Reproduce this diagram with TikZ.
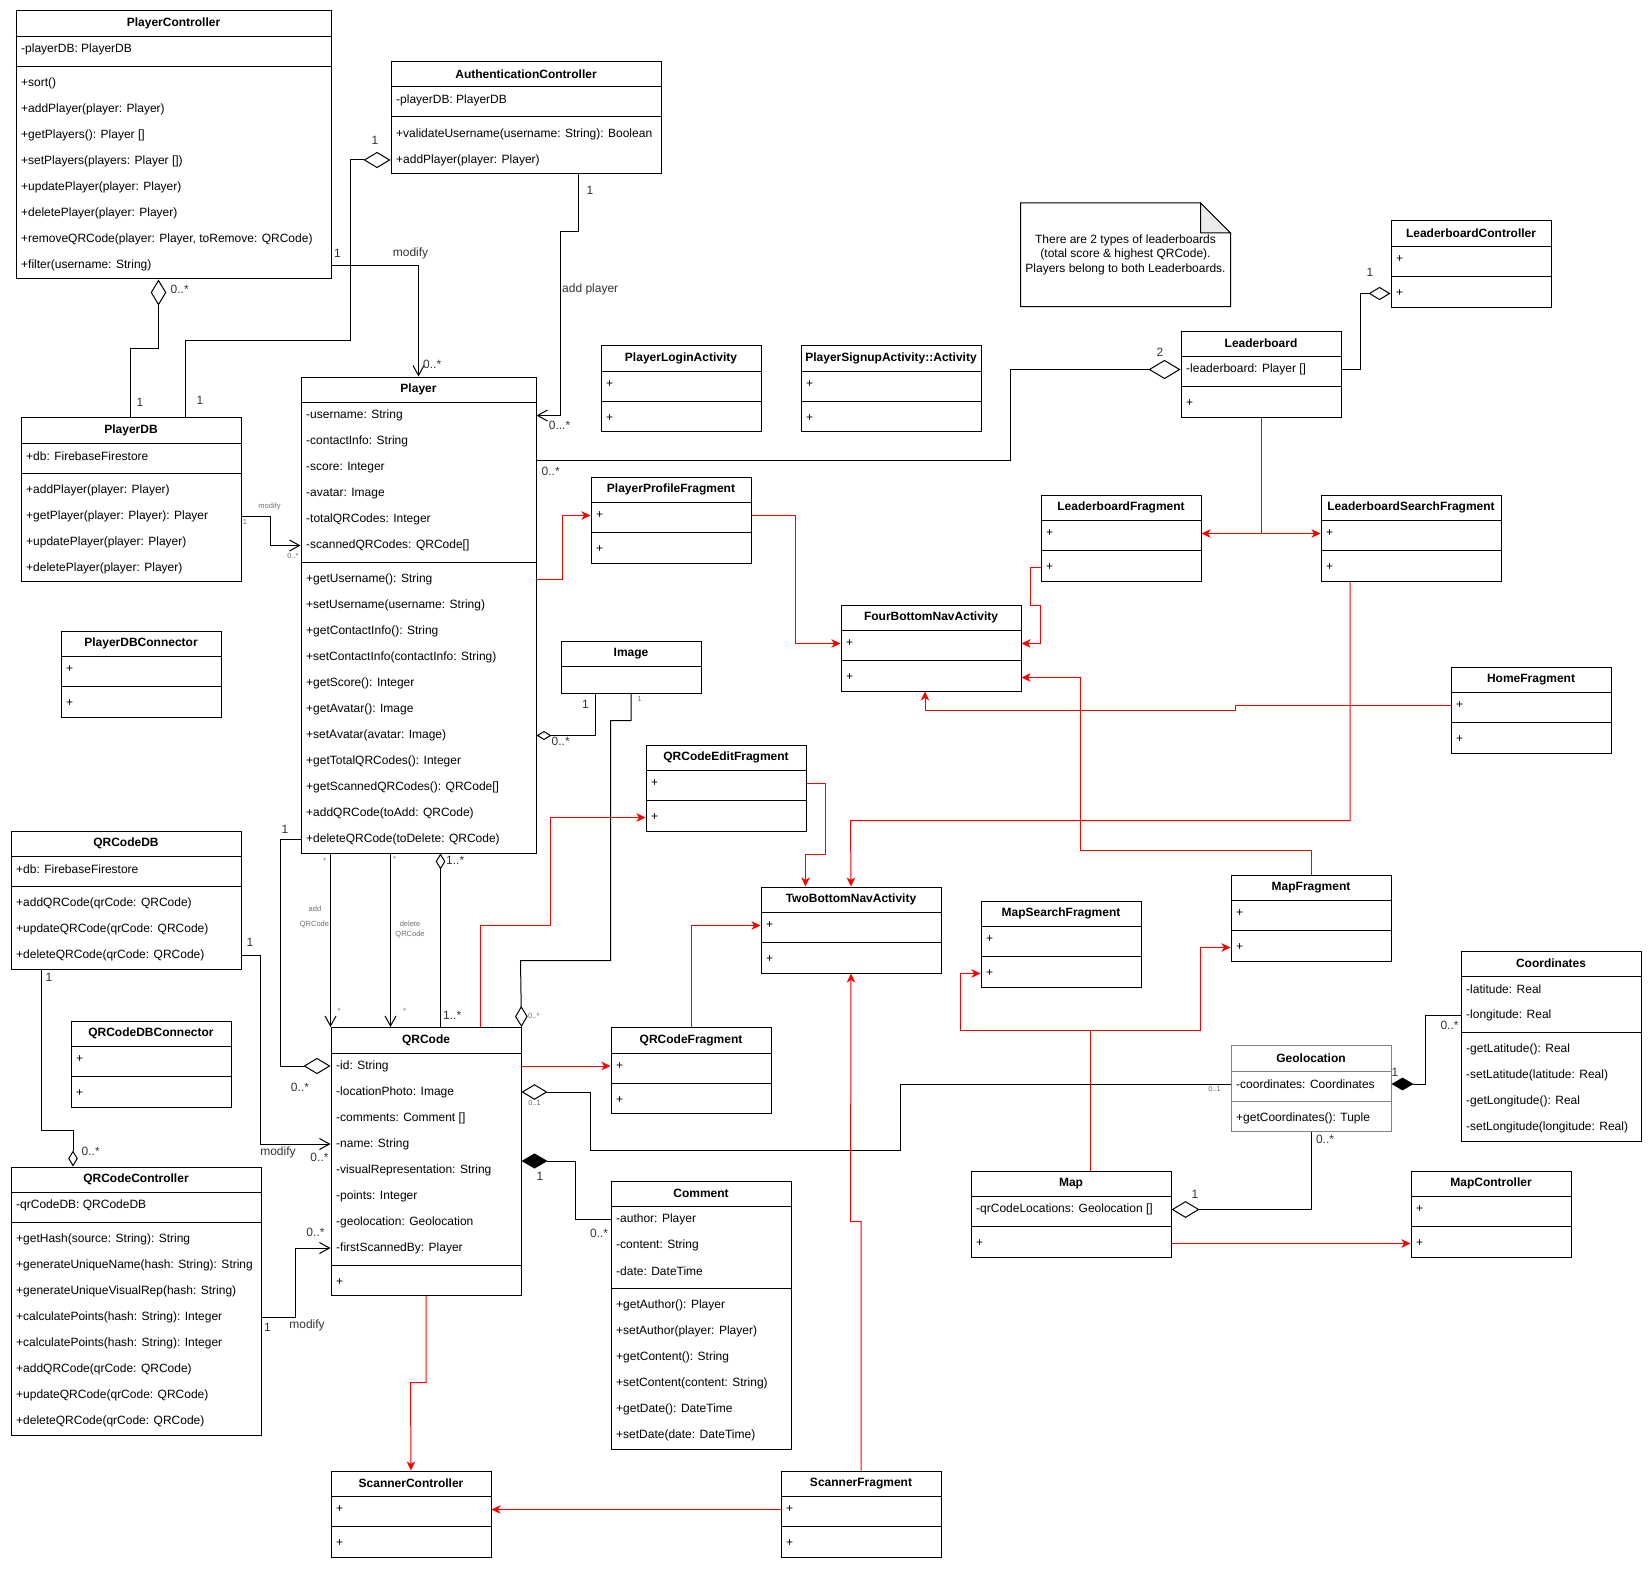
\documentclass[tikz,border=0pt]{standalone}
\usepackage{fontspec}
\setmainfont{Liberation Sans}
\usetikzlibrary{calc,arrows.meta,positioning}
\definecolor{navRed}{RGB}{255,0,0}
\definecolor{labelGray}{RGB}{51,51,51}
\definecolor{tinyGray}{RGB}{110,110,110}
\definecolor{noteFold}{RGB}{235,235,235}
\def\classcol{black}
\newcommand{\umlclass}[7]{%
  \xdef\nattr{0}\xdef\nmeth{0}%
  \foreach \rowtxt [count=\i] in {#6} {\xdef\nattr{\i}}%
  \foreach \rowtxt [count=\i] in {#7} {\xdef\nmeth{\i}}%
  \pgfmathsetmacro{\boxh}{26*(1+\nattr+\nmeth)+8}%
  \node[classbox, minimum width=#4pt, minimum height=\boxh pt, anchor=north west] (#1) at (#2,#3) {};%
  \node[classtitle] (#1-t) at ($(#1.north)+(0,13)$) {#5};%
  \draw[classline] ($(#1.north west)+(0,26)$) -- ++(#4,0);%
  \draw[classline] ($(#1.north west)+(0,{26*(1+\nattr)+4})$) -- ++(#4,0);%
  \foreach \rowtxt [count=\i] in {#6}
    {\node[classrow] (#1-a\i) at ($(#1.north west)+(5.5,{26*\i+13})$) {\rowtxt};}%
  \foreach \rowtxt [count=\i] in {#7}
    {\node[classrow] (#1-m\i) at ($(#1.north west)+(5.5,{26*(\i+\nattr)+21})$) {\rowtxt};}%
}

\begin{document}
\begin{tikzpicture}[x=1pt,y=-1pt,
  classbox/.style={draw=\classcol, line width=1pt, inner sep=0pt},
  classline/.style={draw=\classcol, line width=1pt},
  classtitle/.style={font=\fontsize{12}{14}\selectfont\bfseries, inner sep=0pt},
  classrow/.style={font=\fontsize{12}{14}\selectfont, anchor=west, inner sep=0pt},
  mult/.style={font=\fontsize{12}{14}\selectfont, text=labelGray, inner sep=0pt},
  smalllab/.style={font=\fontsize{7.5}{9}\selectfont, text=tinyGray, inner sep=0pt},
  assoc/.style={line width=1pt, -{Straight Barb[length=10pt,width=11pt]}},
  aggr/.style={line width=1pt, {Diamond[fill=white,length=#1,width'=0pt 0.6]}-},
  comp/.style={line width=1pt, {Diamond[length=#1,width'=0pt 0.58]}-},
  nav/.style={navRed, line width=1pt, -{Stealth[length=9pt,width=8.5pt,inset=2.5pt]}}]
\useasboundingbox (0,0) rectangle (1651,1570);

\umlclass{pctl}{15.5}{10.5}{315}{PlayerController}{-playerDB: PlayerDB}{+sort(), +addPlayer(player: Player), +getPlayers(): Player [], +setPlayers(players: Player []), +updatePlayer(player: Player), +deletePlayer(player: Player), {+removeQRCode(player: Player, toRemove: QRCode)}, +filter(username: String)}
\umlclass{authctl}{390.5}{61}{270}{AuthenticationController}{-playerDB: PlayerDB}{+validateUsername(username: String): Boolean, +addPlayer(player: Player)}
\umlclass{player}{300.5}{376.5}{235}{Player}{-username: String, -contactInfo: String, -score: Integer, -avatar: Image, -totalQRCodes: Integer, -scannedQRCodes: QRCode[]}{+getUsername(): String, +setUsername(username: String), +getContactInfo(): String, +setContactInfo(contactInfo: String), +getScore(): Integer, +getAvatar(): Image, +setAvatar(avatar: Image), +getTotalQRCodes(): Integer, +getScannedQRCodes(): QRCode[], +addQRCode(toAdd: QRCode), +deleteQRCode(toDelete: QRCode)}
\umlclass{pdb}{20.5}{417}{220}{PlayerDB}{+db: FirebaseFirestore}{+addPlayer(player: Player), +getPlayer(player: Player): Player, +updatePlayer(player: Player), +deletePlayer(player: Player)}
\umlclass{plogin}{600.5}{345}{160}{PlayerLoginActivity}{+}{+}
\umlclass{psignup}{800.5}{345}{180}{PlayerSignupActivity::Activity}{+}{+}
\umlclass{lbctl}{1390.5}{220.5}{160}{LeaderboardController}{+}{+}
\umlclass{lb}{1180.5}{330.5}{160}{Leaderboard}{-leaderboard: Player []}{+}
\umlclass{lbfrag}{1040.5}{494.5}{160}{LeaderboardFragment}{+}{+}
\umlclass{lbsearch}{1320.5}{494.5}{180}{LeaderboardSearchFragment}{+}{+}
\umlclass{ppfrag}{590.5}{476.5}{160}{PlayerProfileFragment}{+}{+}
\umlclass{pdbconn}{60.5}{630.5}{160}{PlayerDBConnector}{+}{+}
\umlclass{fourbnav}{840.5}{604.5}{180}{FourBottomNavActivity}{+}{+}
\umlclass{home}{1450.5}{666.5}{160}{HomeFragment}{+}{+}
\umlclass{qreditfrag}{645.5}{744.5}{160}{QRCodeEditFragment}{+}{+}
\umlclass{qrdb}{10.5}{830.5}{230}{QRCodeDB}{+db: FirebaseFirestore}{+addQRCode(qrCode: QRCode), +updateQRCode(qrCode: QRCode), +deleteQRCode(qrCode: QRCode)}
\umlclass{mapfrag}{1230.5}{874.5}{160}{MapFragment}{+}{+}
\umlclass{twobnav}{760.5}{886.5}{180}{TwoBottomNavActivity}{+}{+}
\umlclass{mapsearch}{980.5}{900.5}{160}{MapSearchFragment}{+}{+}
\umlclass{coords}{1460.5}{950.5}{180}{Coordinates}{-latitude: Real, -longitude: Real}{-getLatitude(): Real, -setLatitude(latitude: Real), -getLongitude(): Real, -setLongitude(longitude: Real)}
\umlclass{qrdbconn}{70.5}{1020.5}{160}{QRCodeDBConnector}{+}{+}
\umlclass{qrcode}{330.5}{1027}{190}{QRCode}{-id: String, -locationPhoto: Image, -comments: Comment [], -name: String, -visualRepresentation: String, -points: Integer, -geolocation: Geolocation, -firstScannedBy: Player}{+}
\umlclass{qrfrag}{610.5}{1027}{160}{QRCodeFragment}{+}{+}
\def\classcol{black!50}
\umlclass{geo}{1230.5}{1045}{160}{Geolocation}{-coordinates: Coordinates}{+getCoordinates(): Tuple}
\def\classcol{black}
\umlclass{qrctl}{10.5}{1166.5}{250}{QRCodeController}{-qrCodeDB: QRCodeDB}{+getHash(source: String): String, +generateUniqueName(hash: String): String, +generateUniqueVisualRep(hash: String), +calculatePoints(hash: String): Integer, +calculatePoints(hash: String): Integer, +addQRCode(qrCode: QRCode), +updateQRCode(qrCode: QRCode), +deleteQRCode(qrCode: QRCode)}
\umlclass{map}{970.5}{1170.5}{200}{Map}{-qrCodeLocations: Geolocation []}{+}
\umlclass{mapctl}{1410.5}{1170.5}{160}{MapController}{+}{+}
\umlclass{comment}{610.5}{1180.5}{180}{Comment}{-author: Player, -content: String, -date: DateTime}{+getAuthor(): Player, +setAuthor(player: Player), +getContent(): String, +setContent(content: String), +getDate(): DateTime, +setDate(date: DateTime)}
\umlclass{scanctl}{330.5}{1470.5}{160}{ScannerController}{+}{+}
\umlclass{scanfrag}{780.5}{1470.5}{160}{ScannerFragment}{+}{+}

\node[classbox, minimum width=140pt, minimum height=52pt, anchor=north west] (image) at (560.5,640.5) {};
\node[classtitle] (image-t) at ($(image.north)+(0,13)$) {Image};
\draw[classline] ($(image.north west)+(0,26)$) -- ++(140,0);

\draw[classline, fill=white] (1020.5,203) -- (1200.5,203) -- (1230.5,233) -- (1230.5,306.5) -- (1020.5,306.5) -- cycle;
\draw[classline, fill=noteFold] (1200.5,203) -- (1200.5,233) -- (1230.5,233) -- cycle;
\node[font=\fontsize{12}{14.5}\selectfont, align=center, inner sep=0pt] (note) at (1125.5,254.5) {There are 2 types of leaderboards\\(total score \& highest QRCode).\\Players belong to both Leaderboards.};

\draw[aggr=26pt] ($(pctl.south west)+(143,0)$) -- ++(0,68.5) -| ($(pdb.north west)+(110,0)$);
\node[mult, anchor=west] (c1-from) at (170.5,289) {0..*};
\node[mult] (c1-to) at (140,402) {1};

\draw[aggr=27pt] (authctl.west |- authctl-m2) -| (350.5,340.5) -| ($(pdb.north west)+(165,0)$);
\node[mult] (c2-from) at (375,140.5) {1};
\node[mult] (c2-to) at (200,400.5) {1};

\draw[assoc] (pctl.east |- pctl-m8) -| (player.north);
\node[mult] (c3-from) at (337.5,253) {1};
\node[mult] (c3-lab) at (410.5,253) {modify};
\node[mult, anchor=west] (c3-to) at (423,364) {0..*};

\draw[assoc] ($(authctl.south west)+(188,0)$) -- ++(0,58) -| (560.5,415.5) -- (player.east |- player-a1);
\node[mult] (c4-from) at (590,190) {1};
\node[mult, anchor=west] (c4-lab) at (562,289) {add player};
\node[mult] (c4-to) at (559.5,425) {0...*};

\draw[aggr=32pt] (lb.west |- lb-a1) -| (1010.5,460.5) -- ($(player.north east)+(0,84)$);
\node[mult] (c5-from) at (1160,352) {2};
\node[mult, anchor=west] (c5-to) at (541.5,471) {0..*};

\draw[aggr=22pt] (lbctl.west |- lbctl-m1) -| (1360,369.5) -- (lb.east |- lb-a1);
\node[mult] (c6-from) at (1370,272) {1};

\draw[assoc] (pdb.east |- pdb-m2) -| (270.5,545.5) -- (player.west |- player-a6);
\node[smalllab] (c7-lab) at (269.5,507) {modify};
\node[smalllab] (c7-from) at (245,521.5) {1};
\node[smalllab] (c7-to) at (293,556) {0..*};

\draw[aggr=15pt] (player.east |- player-m7) -| ($(image.south west)+(35,0)$);
\node[mult, anchor=west] (c8-from) at (551.5,741) {0..*};
\node[mult] (c8-to) at (585.5,704) {1};

\draw[aggr=21pt] (qrcode.north east) -- (520.5,960.5) -| (610.5,720.5) -| (image.south);
\node[smalllab] (c9-to) at (639.5,699) {1};
\node[smalllab, anchor=west] (c9-from) at (528,1015.5) {0..*};

\draw[assoc] ($(player.south west)+(30,0)$) -- (qrcode.north west);
\node[smalllab] (c10-from) at (324.5,861) {*};
\node[smalllab] (c10-to) at (339,1011) {*};
\node[smalllab] (c10-lab1) at (315,909) {add};
\node[smalllab] (c10-lab2) at (314.5,924) {QRCode};

\draw[assoc] ($(player.south west)+(90,0)$) -- ($(qrcode.north west)+(60,0)$);
\node[smalllab] (c11-from) at (394.5,858.5) {*};
\node[smalllab] (c11-to) at (404.5,1011) {*};
\node[smalllab] (c11-lab1) at (410,923.5) {delete};
\node[smalllab] (c11-lab2) at (410,934.5) {QRCode};

\draw[aggr=16pt] ($(player.south west)+(140,0)$) -- ($(qrcode.north west)+(110,0)$);
\node[mult, anchor=west] (c12-from) at (446,860.5) {1..*};
\node[mult, anchor=west] (c12-to) at (443,1015.5) {1..*};

\draw[aggr=27pt] (qrcode.west |- qrcode-a1) -| (280.5,839.5) -- (player.west |- player-m11);
\node[mult] (c13-to) at (285,829.5) {1};
\node[mult] (c13-from) at (300,1087.5) {0..*};

\draw[aggr=16pt] ($(qrctl.north west)+(62.5,0)$) -- (73,1130.5) -| ($(qrdb.south west)+(31,0)$);
\node[mult, anchor=west] (c14-to) at (45.5,977) {1};
\node[mult, anchor=west] (c14-from) at (81.5,1151.5) {0..*};

\draw[assoc] (qrdb.east |- qrdb-m3) -| (260.5,1144) -- (qrcode.west |- qrcode-a4);
\node[mult] (c15-from) at (250,942.5) {1};
\node[mult] (c15-lab) at (278,1152) {modify};
\node[mult] (c15-to) at (319.5,1157) {0..*};

\draw[assoc] (qrctl.east |- qrctl-m4) -| (295.5,1248) -- (qrcode.west |- qrcode-a8);
\node[mult] (c16-to) at (315.5,1232) {0..*};
\node[mult] (c16-from) at (267.5,1327.5) {1};
\node[mult] (c16-lab) at (307,1325.5) {modify};

\draw[comp=26pt] ($(qrcode.north east)+(0,134)$) -| (575.5,1219.5) -- (comment.west |- comment-a1);
\node[mult] (c17-from) at (540,1176.5) {1};
\node[mult] (c17-to) at (599,1233) {0..*};

\draw[aggr=26pt] (qrcode.east |- qrcode-a2) -| (590.5,1150.5) -| (900.5,1084) -- (geo.west |- geo-a1);
\node[smalllab] (c18-from) at (534.5,1103) {0..1};
\node[smalllab] (c18-to) at (1214.5,1088.5) {0..1};

\draw[comp=22pt] (geo.east |- geo-a1) -| (1425.5,1015.5) -- (coords.west |- coords-a2);
\node[mult] (c19-from) at (1395,1072) {1};
\node[mult] (c19-to) at (1449.5,1025.5) {0..*};

\draw[aggr=28pt] (map.east |- map-a1) -| (geo.south);
\node[mult] (c20-from) at (1195,1194.5) {1};
\node[mult] (c20-to) at (1325,1139) {0..*};

\draw[nav] (player.east |- player-m1) -| (562.5,515.5) -- (ppfrag.west |- ppfrag-a1);
\draw[nav] (ppfrag.east |- ppfrag-a1) -| (795.5,643.5) -- (fourbnav.west |- fourbnav-a1);
\draw[nav] (lbfrag.west |- lbfrag-m1) -| (1030.5,605.5) -| (1040.5,643.5) -- (fourbnav.east |- fourbnav-a1);
\draw[nav] (lb.south) |- (lbfrag.east |- lbfrag-a1);
\draw[nav] (lb.south) |- (lbsearch.west |- lbsearch-a1);
\draw[nav] (home.west |- home-a1) -| (1235.5,710.5) -| ($(fourbnav.south west)+(84.5,0)$);
\draw[nav] ($(lbsearch.south west)+(29.5,0)$) |- (850.5,820.5) -- (twobnav.north);
\draw[nav] (mapfrag.north) |- (1080,850.5) |- (fourbnav.east |- fourbnav-m1);
\draw[nav] (qreditfrag.east |- qreditfrag-a1) -| (825.5,854.5) -| ($(twobnav.north west)+(45,0)$);
\draw[nav] ($(qrcode.north west)+(150,0)$) |- (550.5,925.5) |- (qreditfrag.west |- qreditfrag-m1);
\draw[nav] (qrfrag.north) |- (twobnav.west |- twobnav-a1);
\draw[nav] (qrcode.east |- qrcode-a1) -- (qrfrag.west |- qrfrag-a1);
\draw[nav] (scanfrag.north) |- (850.5,1221.5) -- (twobnav.south);
\draw[nav] (scanfrag.west |- scanfrag-a1) -- (scanctl.east |- scanctl-a1);
\draw[nav] (qrcode.south) |- (410.5,1382.5) -- (scanctl.north);
\draw[nav] ($(map.north west)+(120,0)$) |- (960.5,1030.5) |- (mapsearch.west |- mapsearch-m1);
\draw[nav] ($(map.north west)+(120,0)$) |- (1200.5,1030.5) |- (mapfrag.west |- mapfrag-m1);
\draw[nav] (map.east |- map-m1) -- (mapctl.west |- mapctl-m1);
\end{tikzpicture}
\end{document}
